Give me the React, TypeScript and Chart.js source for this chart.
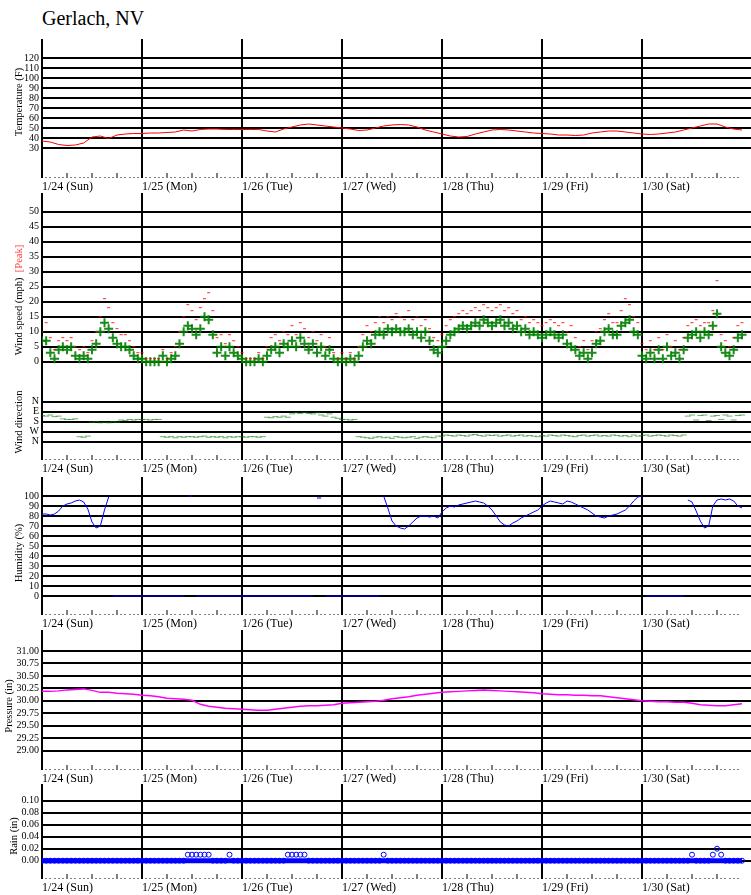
import React, { useEffect, useRef } from 'react';
import { Chart, registerables } from 'chart.js';

Chart.register(...registerables);

const FONT = "'Liberation Serif', 'Times New Roman', serif";

// ---------- tick / category data ----------
const dayLabels = ['1/24 (Sun)', '1/25 (Mon)', '1/26 (Tue)', '1/27 (Wed)', '1/28 (Thu)', '1/29 (Fri)', '1/30 (Sat)'];
// hourly tick positions (0 .. 168 h); day lines every 24 h, tick marks every 6 h, dots every hour
const xTickHours = Array.from({ length: 169 }, (_, i) => i);
const X_MAX = 170.16;

const tempTicks = [30, 40, 50, 60, 70, 80, 90, 100, 110, 120];
const speedTicks = [0, 5, 10, 15, 20, 25, 30, 35, 40, 45, 50];
const dirTicks = [0, 90, 180, 270, 360];
const dirTickLabels = ['N', 'E', 'S', 'W', 'N'];
const humidityTicks = [0, 10, 20, 30, 40, 50, 60, 70, 80, 90, 100];
const pressureTicks = [29.0, 29.25, 29.5, 29.75, 30.0, 30.25, 30.5, 30.75, 31.0];
const rainTicks = [0, 0.02, 0.04, 0.06, 0.08, 0.1];

// ---------- series (temperature & pressure: every 2 h; others hourly) ----------
const temperature2h = [
  37, 36, 33.5, 32.5, 33, 35, 41, 42, 39.5, 43, 44, 44.5,
  44.5, 45, 45, 45.5, 46, 48, 47, 48.5, 49, 49, 48.5, 48.5,
  48.5, 48.5, 48.5, 47, 46, 49, 51, 53, 54, 53, 52, 51,
  50, 49, 47.5, 48, 50, 52, 53, 53.5, 53, 51, 48, 46,
  44, 42, 41, 41.5, 44, 46, 48, 48.5, 48, 47, 46, 45,
  44.5, 44, 43, 43, 42.5, 43, 45, 46, 47, 47, 46, 45,
  44, 43.5, 44, 45, 46, 48, 50, 52, 54, 54, 51, 49, 48,
];

const pressure2h = [
  30.19, 30.19, 30.2, 30.22, 30.23, 30.24, 30.21, 30.17, 30.17, 30.15, 30.14, 30.13,
  30.11, 30.1, 30.08, 30.05, 30.04, 30.03, 30.01, 29.93, 29.89, 29.87, 29.85, 29.84,
  29.83, 29.82, 29.81, 29.81, 29.83, 29.85, 29.87, 29.89, 29.9, 29.9, 29.91, 29.92,
  29.95, 29.96, 29.97, 29.98, 29.99, 30.01, 30.04, 30.06, 30.08, 30.11, 30.13, 30.15,
  30.17, 30.18, 30.19, 30.2, 30.21, 30.22, 30.21, 30.2, 30.19, 30.18, 30.17, 30.16,
  30.14, 30.13, 30.12, 30.12, 30.11, 30.11, 30.1, 30.1, 30.08, 30.06, 30.04, 30.02,
  30.0, 29.99, 29.98, 29.98, 29.97, 29.97, 29.95, 29.92, 29.91, 29.9, 29.9, 29.92, 29.94,
];

const windSpeed = [
  7, 7, 3, 1, 4, 5, 4, 5, 2, 1, 2, 1, 4, 6, 10, 13, 11, 8, 6, 5, 5, 4, 2, 1,
  1, 0, 0, 0, 0, 2, 0, 1, 2, 6, 10, 12, 11, 9, 11, 15, 14, 9, 3, 5, 2, 5, 3, 2,
  1, 0, 0, 0, 1, 0, 2, 4, 5, 3, 6, 5, 7, 5, 8, 6, 4, 6, 3, 5, 2, 4, 1, 0,
  1, 0, 1, 0, 2, 5, 7, 6, 9, 10, 9, 11, 10, 11, 10, 10, 11, 9, 10, 8, 10, 7, 4, 3,
  5, 7, 9, 10, 11, 12, 11, 12, 13, 12, 14, 13, 12, 13, 14, 12, 13, 11, 12, 10, 11, 9, 10, 9,
  8, 9, 10, 9, 8, 9, 6, 5, 4, 2, 3, 1, 3, 6, 7, 10, 11, 9, 9, 12, 13, 14, 10, 9,
  2, 1, 3, 1, 4, 1, 5, 2, 3, 1, 4, 8, 9, 10, 8, 10, 9, 12, 16, 5, 3, 2, 4, 8, 9,
];

const windPeak = [
  10, 13, 8, 4, 7, 8, 7, 8, 5, 4, 5, 3, 7, 10, 15, 21, 18, 13, 11, 9, 9, 7, 5, 3,
  3, 1, 1, 1, 1, 4, 1, 3, 5, 10, 15, 19, 17, 14, 18, 21, 23, 17, 8, 9, 6, 9, 7, 5,
  3, 1, 1, 1, 3, 1, 5, 8, 9, 7, 10, 9, 12, 9, 13, 11, 8, 10, 7, 9, 5, 8, 3, 1,
  3, 1, 3, 1, 5, 9, 12, 10, 13, 15, 13, 15, 14, 16, 15, 14, 17, 14, 15, 12, 14, 11, 8, 7,
  9, 12, 14, 15, 16, 17, 16, 17, 18, 17, 19, 18, 17, 18, 19, 17, 18, 16, 17, 14, 15, 13, 14, 13,
  12, 13, 14, 13, 12, 13, 10, 12, 8, 5, 7, 4, 7, 10, 11, 14, 16, 13, 13, 17, 21, 19, 15, 13,
  6, 4, 7, 4, 8, 4, 9, 5, 7, 4, 8, 12, 13, 14, 12, 13, 13, 17, 27, 9, 7, 5, 8, 12, 13,
];

// compass degrees (N=0, E=90, S=180, W=270)
const windDir = [
  125, 130, 120, 135, 130, 155, 160, 160, 155, 315, 320, 310, 185, 180, 190, 185, 190, 180, 185, 165, 170, 160, 165, 160,
  160, 160, 165, 160, 160, 315, 320, 315, 325, 315, 320, 315, 315, 320, 315, 310, 320, 315, 320, 315, 325, 315, 320, 315,
  315, 320, 315, 315, 320, 315, 140, 145, 135, 140, 130, 140, 110, 100, 105, 95, 105, 110, 100, 120, 130, 110, 140, 150,
  160, 160, 165, 160, 315, 320, 325, 330, 320, 315, 325, 320, 330, 315, 320, 325, 320, 315, 330, 320, 315, 320, 325, 310,
  310, 300, 305, 310, 300, 305, 310, 300, 295, 305, 310, 300, 305, 300, 310, 305, 300, 310, 305, 300, 310, 305, 310, 315,
  305, 310, 300, 305, 310, 300, 305, 310, 315, 305, 300, 310, 305, 300, 310, 305, 310, 300, 305, 310, 305, 315, 300, 310,
  305, 300, 310, 305, 300, 305, 310, 300, 305, 310, 300, 130, 120, 165, 125, 120, 170, 130, 125, 160, 120, 130, 165, 125, 120,
];

const humidityHourly = [
  82, 82, 81, 82, 85, 90, 92, 93, 95, 96, 94, 87, 74, 68, 70, 86, 99, 0, 0, 0, 0, 0, 0, 0,
  0, 0, 0, 0, 0, 0, 0, 0, 0, 0, 0, 100, 100, 0, 0, 0, 0, 0, 0, 0, 0, 0, 0, 0,
  0, 0, 0, 0, 0, 0, 0, 0, 0, 0, 0, 0, 0, 0, 0, 0, 0, 0, 98, 98, 0, 0, 0, 0,
  0, 0, 0, 0, 0, 0, 0, 0, 0, 0, 100, 88, 75, 70, 68, 67, 70, 74, 78, 80, 80, 79, 80, 78,
  84, 88, 90, 89, 91, 92, 93, 94, 95, 94, 93, 90, 86, 80, 74, 71, 70, 73, 75, 78, 80, 82, 84, 86,
  90, 93, 95, 94, 93, 92, 95, 94, 92, 90, 88, 86, 83, 80, 79, 78, 80, 81, 82, 84, 86, 90, 95, 99,
  100, 0, 0, 0, 0, 0, 0, 0, 0, 0, 0, 96, 94, 85, 75, 68, 70, 90, 96, 97, 96, 97, 95, 90, 88,
];

const rainHourly = [
  0, 0, 0, 0, 0, 0, 0, 0, 0, 0, 0, 0, 0, 0, 0, 0, 0, 0, 0, 0, 0, 0, 0, 0,
  0, 0, 0, 0, 0, 0, 0, 0, 0, 0, 0, 0.01, 0.01, 0.01, 0.01, 0.01, 0.01, 0, 0, 0, 0, 0.01, 0, 0,
  0, 0, 0, 0, 0, 0, 0, 0, 0, 0, 0, 0.01, 0.01, 0.01, 0.01, 0.01, 0, 0, 0, 0, 0, 0, 0, 0,
  0, 0, 0, 0, 0, 0, 0, 0, 0, 0, 0.01, 0, 0, 0, 0, 0, 0, 0, 0, 0, 0, 0, 0, 0,
  0, 0, 0, 0, 0, 0, 0, 0, 0, 0, 0, 0, 0, 0, 0, 0, 0, 0, 0, 0, 0, 0, 0, 0,
  0, 0, 0, 0, 0, 0, 0, 0, 0, 0, 0, 0, 0, 0, 0, 0, 0, 0, 0, 0, 0, 0, 0, 0,
  0, 0, 0, 0, 0, 0, 0, 0, 0, 0, 0, 0, 0.01, 0, 0, 0, 0, 0.01, 0.02, 0.01, 0, 0, 0, 0, 0,
];

// ---------- helpers ----------
const every2h = (arr: number[]) => arr.map((v, i) => ({ x: i * 2, y: v }));
const hourlyPts = (arr: number[]) => arr.map((v, i) => ({ x: i, y: v }));

type PanelProps = {
  top: number;
  plotHeight: number;
  axisHeight: number;
  yMin: number;
  yMax: number;
  yTicks: number[];
  yLabel: (v: number) => string;
  reverse?: boolean;
  datasets: any[];
};

const CLEAR = 'rgba(0,0,0,0)';

function Panel(props: PanelProps) {
  const ref = useRef<HTMLCanvasElement>(null);
  const showAxis = props.axisHeight > 0;
  useEffect(() => {
    const yFont = { family: FONT, size: 10 };
    const xFont = { family: FONT, size: 12 };
    const chart = new Chart(ref.current as HTMLCanvasElement, {
      type: 'scatter',
      data: { datasets: props.datasets },
      options: {
        responsive: false,
        animation: false,
        events: [],
        layout: { padding: 0, autoPadding: false },
        plugins: {
          legend: { display: false },
          tooltip: { enabled: false },
          title: { display: false },
        },
        scales: {
          x: {
            type: 'linear',
            position: 'bottom',
            min: 0,
            max: X_MAX,
            afterBuildTicks: (s: any) => {
              s.ticks = xTickHours.map((v) => ({ value: v }));
            },
            afterFit: (s: any) => {
              s.height = props.axisHeight;
              s.paddingLeft = 0;
              s.paddingRight = 0;
            },
            grid: {
              color: (c: any) => (c.tick && c.tick.value % 24 === 0 ? '#000' : CLEAR),
              lineWidth: (c: any) => (c.tick && c.tick.value % 24 === 0 ? 2 : 0),
              drawTicks: showAxis,
              tickLength: -5,
              tickWidth: 1,
              tickColor: (c: any) => (c.tick && c.tick.value % 24 === 0 ? CLEAR : '#000'),
              tickBorderDash: (c: any) => (c.tick && c.tick.value % 6 === 0 ? [] : [1, 20]),
            },
            border: { display: false },
            ticks: {
              display: showAxis,
              autoSkip: false,
              maxRotation: 0,
              minRotation: 0,
              align: 'start',
              padding: 7,
              font: xFont,
              color: '#000',
              callback: (v: any) => (Number(v) % 24 === 0 ? dayLabels[Number(v) / 24] : ''),
            },
          },
          y: {
            type: 'linear',
            min: props.yMin,
            max: props.yMax,
            reverse: !!props.reverse,
            afterBuildTicks: (s: any) => {
              s.ticks = props.yTicks.map((v) => ({ value: v }));
            },
            afterFit: (s: any) => {
              s.width = 42;
              s.paddingTop = 0;
              s.paddingBottom = 0;
            },
            grid: { color: '#000', lineWidth: 2, drawTicks: false },
            border: { display: false },
            ticks: {
              padding: 3,
              autoSkip: false,
              font: yFont,
              color: '#000',
              callback: (v: any) => props.yLabel(Number(v)),
            },
          },
        },
      } as any,
    });
    return () => chart.destroy();
  }, []);
  const h = props.plotHeight + props.axisHeight;
  return (
    <canvas
      ref={ref}
      width={751}
      height={h}
      style={{ position: 'absolute', left: 0, top: props.top, width: 751, height: h }}
    />
  );
}

function RotTitle({ cx, cy, children }: { cx: number; cy: number; children: any }) {
  return (
    <div
      style={{
        position: 'absolute',
        left: cx,
        top: cy,
        transform: 'translate(-50%, -50%) rotate(-90deg)',
        whiteSpace: 'nowrap',
        fontSize: 10.5,
        lineHeight: '12px',
        color: '#000',
      }}
    >
      {children}
    </div>
  );
}

const lineDs = (data: any[], color: string, width: number, extra: any = {}) => ({
  data,
  showLine: true,
  borderColor: color,
  borderWidth: width,
  pointRadius: 0,
  tension: 0,
  ...extra,
});

export default function App() {
  const tempDs = [lineDs(every2h(temperature2h), '#ff0000', 1)];
  const pressDs = [lineDs(every2h(pressure2h), '#ff00ff', 1.5)];
  const humDs = [
    lineDs(hourlyPts(humidityHourly), '#0000ff', 1, {
      segment: {
        borderColor: (ctx: any) =>
          (ctx.p0.parsed.y === 0) !== (ctx.p1.parsed.y === 0) ? CLEAR : undefined,
      },
    }),
  ];
  const speedDs = [
    {
      data: hourlyPts(windPeak),
      showLine: false,
      pointStyle: 'line',
      pointRadius: 1.5,
      pointBorderWidth: 1,
      pointBorderColor: 'rgba(255,0,0,0.85)',
      pointBackgroundColor: 'rgba(255,0,0,0.85)',
    },
    {
      data: hourlyPts(windSpeed),
      showLine: false,
      pointStyle: 'cross',
      pointRadius: 4.5,
      pointBorderWidth: 2,
      pointBorderColor: 'rgba(0,128,0,0.9)',
      pointBackgroundColor: 'rgba(0,128,0,0.9)',
    },
  ];
  const dirDs = [
    {
      data: hourlyPts(windDir),
      showLine: false,
      pointStyle: 'line',
      pointRadius: 3,
      pointBorderWidth: 1,
      pointBorderColor: 'rgba(0,128,0,0.6)',
    },
  ];
  const rainPts = hourlyPts(rainHourly);
  const rainDs = [
    {
      data: rainPts.filter((p) => p.y === 0),
      showLine: true,
      borderColor: '#0000ff',
      borderWidth: 5,
      pointStyle: 'circle',
      pointRadius: 2.5,
      pointBorderWidth: 1,
      pointBorderColor: '#0000ff',
      pointBackgroundColor: CLEAR,
    },
    {
      data: rainPts.filter((p) => p.y > 0),
      showLine: false,
      pointStyle: 'circle',
      pointRadius: 2.5,
      pointBorderWidth: 1,
      pointBorderColor: '#0000ff',
      pointBackgroundColor: CLEAR,
    },
  ];

  return (
    <div
      style={{
        position: 'absolute',
        left: 0,
        top: 0,
        width: 751,
        height: 895,
        overflow: 'hidden',
        background: '#fff',
        fontFamily: FONT,
      }}
    >
      <div style={{ position: 'absolute', left: 42, top: 7, fontSize: 20, whiteSpace: 'nowrap', color: '#000' }}>
        Gerlach, NV
      </div>

      <Panel top={39} plotHeight={139} axisHeight={15} yMin={0} yMax={139} yTicks={tempTicks}
        yLabel={(v) => String(v)} datasets={tempDs} />
      <Panel top={193} plotHeight={189} axisHeight={0} yMin={-6.77} yMax={56.23} yTicks={speedTicks}
        yLabel={(v) => String(v)} datasets={speedDs} />
      <Panel top={382} plotHeight={78} axisHeight={15} yMin={-177} yMax={525} reverse yTicks={dirTicks}
        yLabel={(v) => dirTickLabels[dirTicks.indexOf(v)] ?? ''} datasets={dirDs} />
      <Panel top={477} plotHeight={138} axisHeight={15} yMin={-19} yMax={119} yTicks={humidityTicks}
        yLabel={(v) => String(v)} datasets={humDs} />
      <Panel top={630} plotHeight={140} axisHeight={14} yMin={28.613} yMax={31.421} yTicks={pressureTicks}
        yLabel={(v) => v.toFixed(2)} datasets={pressDs} />
      <Panel top={784} plotHeight={95} axisHeight={16} yMin={-0.0305} yMax={0.1278} yTicks={rainTicks}
        yLabel={(v) => v.toFixed(2)} datasets={rainDs} />

      <RotTitle cx={19} cy={102}>Temperature (F)</RotTitle>
      <RotTitle cx={19} cy={300}>
        <span>Wind speed (mph)</span>
        <span>&nbsp;&nbsp;</span>
        <span style={{ color: '#ff3b3b' }}>[Peak]</span>
      </RotTitle>
      <RotTitle cx={19} cy={422}>Wind direction</RotTitle>
      <RotTitle cx={19} cy={553}>Humidity (%)</RotTitle>
      <RotTitle cx={9} cy={706}>Pressure (in)</RotTitle>
      <RotTitle cx={14} cy={836}>Rain (in)</RotTitle>
    </div>
  );
}
